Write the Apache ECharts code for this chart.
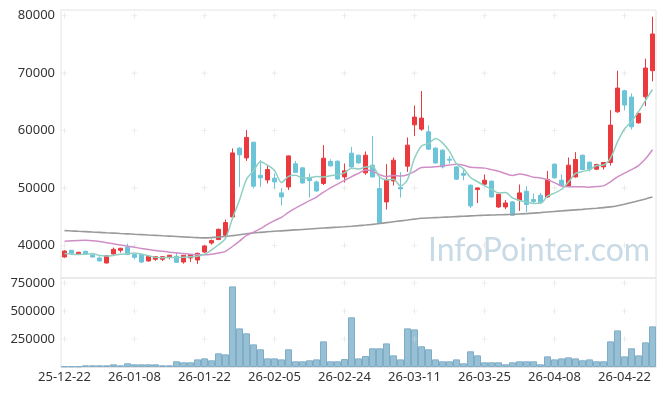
<!DOCTYPE html>
<html>
<head>
<meta charset="utf-8">
<script src="https://cdn.jsdelivr.net/npm/echarts@6/dist/echarts.min.js"></script>
<style>html,body{margin:0;padding:0;background:#fff;}#chart{width:665px;height:396px;}</style>
</head>
<body>
<div id="chart"></div>
<script>
const dates = ['25-12-22','25-12-23','25-12-24','25-12-26','25-12-29','25-12-30','26-01-02','26-01-05','26-01-06','26-01-07',
'26-01-08','26-01-09','26-01-12','26-01-13','26-01-14','26-01-15','26-01-16','26-01-19','26-01-20','26-01-21',
'26-01-22','26-01-23','26-01-26','26-01-27','26-01-28','26-01-29','26-01-30','26-02-02','26-02-03','26-02-04',
'26-02-05','26-02-06','26-02-09','26-02-10','26-02-11','26-02-12','26-02-13','26-02-19','26-02-20','26-02-23',
'26-02-24','26-02-25','26-02-26','26-02-27','26-03-03','26-03-04','26-03-05','26-03-06','26-03-09','26-03-10',
'26-03-11','26-03-12','26-03-13','26-03-16','26-03-17','26-03-18','26-03-19','26-03-20','26-03-23','26-03-24',
'26-03-25','26-03-26','26-03-27','26-03-30','26-03-31','26-04-01','26-04-02','26-04-03','26-04-06','26-04-07',
'26-04-08','26-04-09','26-04-10','26-04-13','26-04-14','26-04-15','26-04-16','26-04-17','26-04-20','26-04-21',
'26-04-22','26-04-23','26-04-24','26-04-27','26-04-28'];

const opens = [37960,39130,38480,38950,38310,37785,36910,38480,39130,39650,
38375,38430,37260,37560,37560,37900,38080,37090,37785,37435,
38830,40400,41000,41745,44940,56930,55230,57970,52200,51395,
51690,49130,50170,54190,53490,51810,51045,50770,54600,54660,
51920,56050,55700,52620,53960,49890,47560,51220,50070,53790,
60990,60240,59770,56930,56580,55000,53660,52510,50470,49710,
50640,51170,46680,46680,47560,47850,49420,47970,48720,48430,
54130,51340,50350,51920,55700,54480,53260,53660,54430,63260,
66930,65830,61340,65880,70420];

const closes = [39000,38600,38780,38480,37960,37260,38200,39300,39480,38375,
37900,37090,38080,38020,38020,38255,37030,38255,38375,38600,
39880,40820,42790,43960,56100,55760,58800,50300,51745,53200,
51045,48430,55580,52690,50870,51290,49475,55180,53840,51570,
52970,53660,54360,55700,51920,43790,51340,54830,49820,57450,
62340,62160,56750,54360,53660,54830,51520,52210,46860,50000,
51340,48430,48900,47380,45240,49130,47100,47630,47500,51460,
51750,50470,53960,54950,53210,53260,54080,54430,60940,67400,
64430,60640,62980,70890,76820];

const highs = [39130,39200,38850,39050,38600,38050,38250,39600,39550,40300,
38400,38500,38150,38100,38100,38350,38700,38300,38450,38700,
40000,41000,42900,44485,56870,57100,60070,57970,54830,53910,
52500,49950,55650,54700,53600,52510,51300,57450,55000,54800,
54250,57150,55800,56350,59020,52000,54130,55300,52740,58790,
64380,66870,60890,57100,56700,55530,53800,53100,50600,50050,
52340,51300,49000,47900,47700,50590,50300,49020,49130,52970,
54300,52340,55300,56230,55800,54600,54200,54500,63560,70420,
67100,66470,63100,72510,79840];

const lows = [37850,38310,38400,38310,37850,37200,36850,38400,38730,38300,
37550,36900,37200,37300,37250,37550,36980,36800,37100,36750,
38700,40100,40900,41400,44500,50170,54700,49900,50170,50770,
49900,46930,49650,52600,50700,48320,49300,50500,53700,51400,
50940,53500,54200,52300,51800,43700,46230,50420,48320,52800,
59020,59950,56600,54200,53400,54250,51400,51340,46500,47380,
50500,48300,46500,46300,45200,45990,45800,47280,47400,48300,
51600,50300,50200,51800,53100,52860,53100,53200,53900,63100,
63500,60190,61200,64260,68570];

const volumes = [6000,6000,6000,15000,15000,15000,15000,24000,15000,33000,
24000,24000,24000,24000,15000,15000,51000,42000,42000,68000,
77000,60000,122000,113000,720000,345000,301000,202000,158000,77000,
77000,68000,158000,51000,51000,60000,68000,229000,51000,51000,
71000,444000,77000,98000,167000,167000,211000,104000,68000,345000,
336000,185000,158000,68000,51000,51000,68000,33000,140000,104000,
42000,42000,42000,24000,42000,51000,51000,51000,24000,95000,
68000,77000,86000,77000,60000,68000,51000,51000,229000,327000,
95000,167000,104000,220000,363000];

const ma5 = [38550,38450,38400,38420,38564,38216,38136,38240,38440,38523,
38651,38429,38185,37893,37822,37893,37881,37916,37987,38103,
38428,39186,40093,41210,44710,47886,51482,52984,54541,53961,
53018,50944,52000,52189,51723,51772,51981,51901,52131,52271,
52607,53444,53280,53652,53722,51886,51422,51516,50340,51446,
55156,57320,57704,58612,57854,56352,54224,53316,51816,51084,
50386,49768,49106,49210,48258,47816,47550,47296,47320,48564,
49088,49762,51028,52518,52868,53170,53892,53986,55184,58022,
60256,61568,63278,65268,67152];

const ma20 = [40700,40780,40850,40870,40800,40650,40450,40250,40050,39850,
39650,39450,39250,39100,38950,38800,38700,38550,38450,38350,
38350,38450,38650,38950,39790,40715,41745,42295,42908,43649,
44306,44873,45748,46482,47124,47776,48398,49245,50018,50666,
51321,51963,52541,53128,52919,52321,51948,52174,52078,52291,
52855,53542,53600,53684,53823,54000,54103,53954,53605,53527,
53445,53184,52911,52495,52161,52428,52216,51856,51740,51440,
50911,50326,50187,50216,50194,50115,50243,50354,51058,51928,
52583,53193,53897,55073,56652];

const maLong = [42560,42500,42440,42380,42310,42250,42180,42120,42050,41990,
41920,41860,41790,41730,41660,41600,41530,41460,41400,41340,
41290,41330,41420,41530,41680,41840,42000,42150,42250,42350,
42440,42520,42600,42680,42760,42840,42920,43000,43080,43150,
43230,43320,43420,43530,43650,43790,43950,44100,44250,44400,
44560,44700,44760,44820,44880,44940,45000,45060,45120,45180,
45235,45270,45310,45350,45390,45440,45520,45610,45700,45800,
45900,45990,46080,46170,46260,46360,46450,46560,46700,46900,
47150,47450,47750,48080,48430];

const priceTicks = [40000,50000,60000,70000,80000];
const volumeTicks = [250000,500000,750000];
const gridCols = [0,10,20,30,40,50,60,70,80];

const candleData = opens.map((o,i)=>[o, closes[i], lows[i], highs[i]]);
const crossPrice = [];
gridCols.forEach(c=>priceTicks.forEach(v=>crossPrice.push([c,v])));
const crossVol = [];
gridCols.forEach(c=>volumeTicks.forEach(v=>crossVol.push([c,v])));

const plus = 'path://M4,0h1v4h4v1h-4v4h-1v-4h-4v-1h4z';
const font = 'Noto Sans';
const plain = v => String(v);
const chart = echarts.init(document.getElementById('chart'));
chart.setOption({
  animation:false,
  backgroundColor:'#fff',
  grid:[
    {left:61, top:10, width:595, height:268, show:true, borderColor:'#e4e4e4', borderWidth:1},
    {left:61, top:278, width:595, height:89, show:true, borderColor:'#e4e4e4', borderWidth:1}
  ],
  xAxis:[
    {type:'category', gridIndex:0, data:dates, boundaryGap:true,
     axisLine:{show:false}, axisTick:{show:false}, axisLabel:{show:false}, splitLine:{show:false}},
    {type:'category', gridIndex:1, data:dates, boundaryGap:true,
     axisLine:{show:true, lineStyle:{color:'#e4e4e4'}}, axisTick:{show:false},
     axisLabel:{interval:9, margin:4, fontSize:13, color:'#333', fontFamily:font}, splitLine:{show:false}}
  ],
  yAxis:[
    {type:'value', gridIndex:0, min:34300, max:81000, splitNumber:5, scale:true,
     axisLine:{show:false}, axisTick:{show:false}, splitLine:{show:false},
     axisLabel:{showMinLabel:false, showMaxLabel:false, margin:6, fontSize:13, color:'#333', fontFamily:font, formatter:plain}},
    {type:'value', gridIndex:1, min:0, max:795000, interval:250000,
     axisLine:{show:false}, axisTick:{show:false}, splitLine:{show:false},
     axisLabel:{showMinLabel:false, showMaxLabel:false, margin:6, fontSize:13, color:'#333', fontFamily:font, formatter:plain}}
  ],
  graphic:[{type:'text', left:428, top:235, z:0, silent:true,
    style:{text:'InfoPointer.com', font:'32px Lato', fill:'#c8dae5'}}],
  series:[
    {type:'scatter', xAxisIndex:0, yAxisIndex:0, data:crossPrice, symbol:plus, symbolSize:6,
     itemStyle:{color:'#dcdcdc'}, silent:true, z:1},
    {type:'scatter', xAxisIndex:1, yAxisIndex:1, data:crossVol, symbol:plus, symbolSize:6,
     itemStyle:{color:'#dcdcdc'}, silent:true, z:3},
    {type:'candlestick', xAxisIndex:0, yAxisIndex:0, data:candleData, barWidth:5, z:2,
     itemStyle:{color:'#ea3a3e', color0:'#6cc4d9', borderColor:'#ea3a3e', borderColor0:'#6cc4d9', borderWidth:1}},
    {type:'line', xAxisIndex:0, yAxisIndex:0, data:maLong, showSymbol:false, smooth:0.3, z:3,
     lineStyle:{color:'#9a9a9a', width:1.6}},
    {type:'line', xAxisIndex:0, yAxisIndex:0, data:ma20, showSymbol:false, smooth:0.3, z:3,
     lineStyle:{color:'#d08ec6', width:1.5}},
    {type:'line', xAxisIndex:0, yAxisIndex:0, data:ma5, showSymbol:false, smooth:0.3, z:3,
     lineStyle:{color:'#8fd0c2', width:1.5}},
    {type:'bar', xAxisIndex:1, yAxisIndex:1, data:volumes, barCategoryGap:'0%', z:2,
     itemStyle:{color:'#98c0d4', borderColor:'#7fadc8', borderWidth:1}}
  ]
});
</script>
</body>
</html>
